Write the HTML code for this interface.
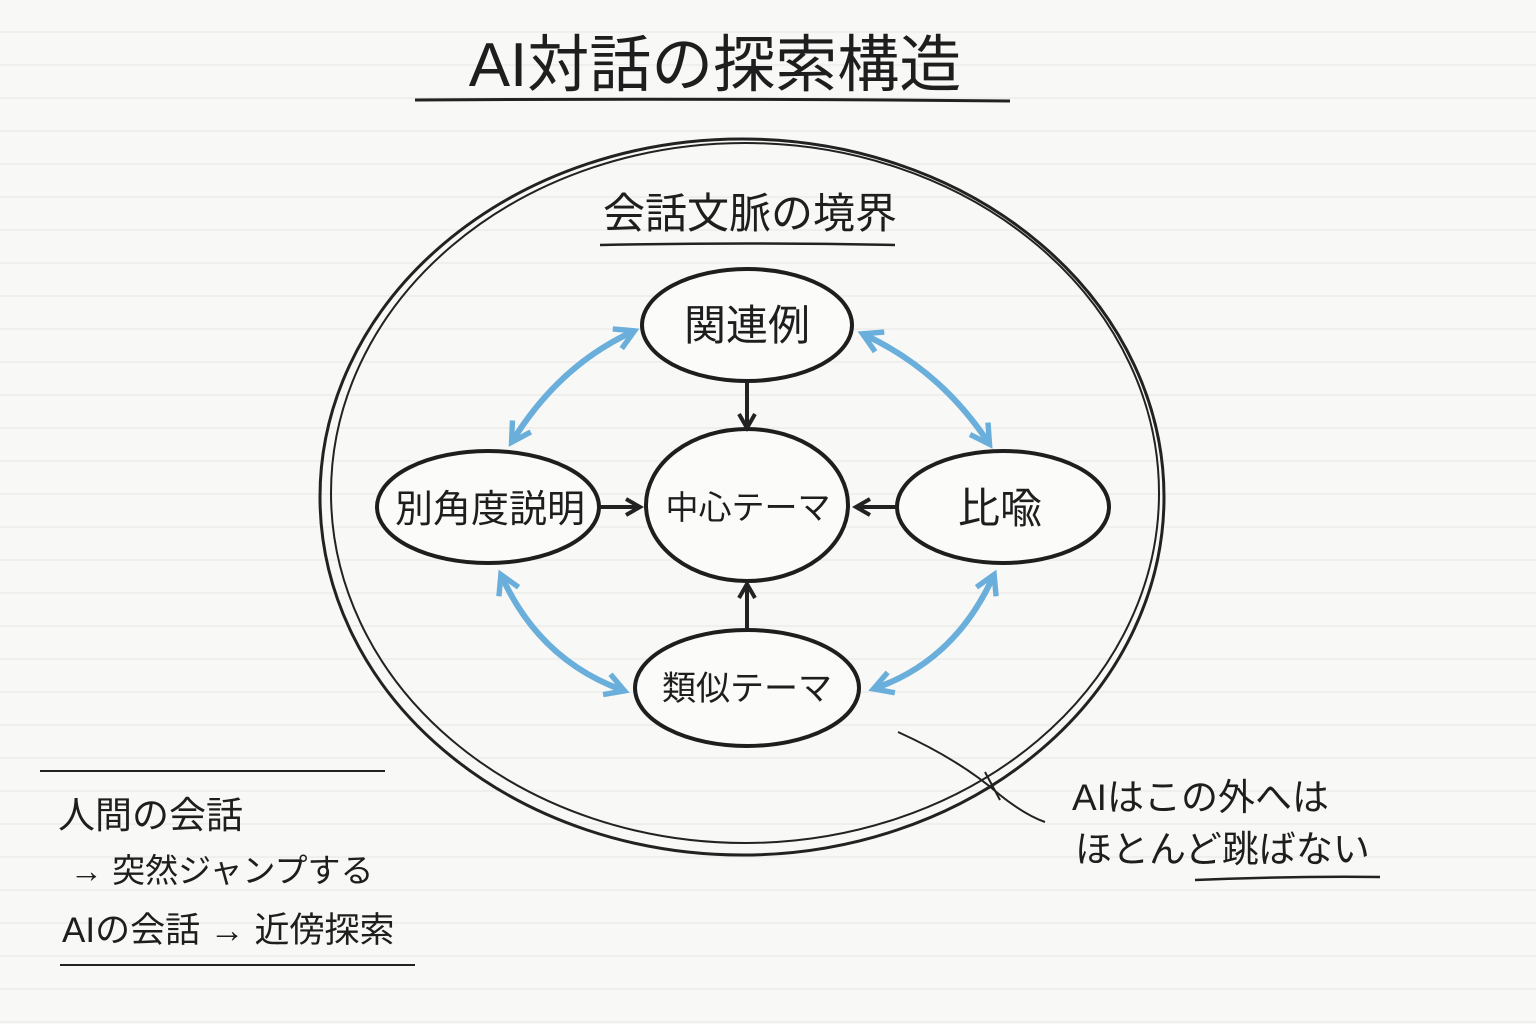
<!DOCTYPE html>
<html><head><meta charset="utf-8"><style>
html,body{margin:0;padding:0;background:#f8f8f6;}
svg{display:block}
text{font-family:"Liberation Sans","Noto Sans CJK JP",sans-serif;fill:#1e1e1e;}
</style></head><body>
<svg width="1536" height="1024" viewBox="0 0 1536 1024" xmlns="http://www.w3.org/2000/svg">
<defs>
<pattern id="ln" width="1536" height="33" patternUnits="userSpaceOnUse">
<line x1="0" y1="32" x2="1536" y2="32" stroke="#e6e6e4" stroke-width="1"/>
</pattern>
<marker id="bk" viewBox="0 0 10 10" refX="7" refY="5" markerWidth="5" markerHeight="5" orient="auto-start-reverse">
<path d="M1,1 L8,5 L1,9" fill="none" stroke="#222" stroke-width="2"/>
</marker>
<marker id="bl" viewBox="0 0 10 10" refX="7" refY="5" markerWidth="4.5" markerHeight="4.5" orient="auto-start-reverse">
<path d="M1,1 L8,5 L1,9" fill="none" stroke="#6aaedb" stroke-width="2"/>
</marker>
</defs>
<rect width="1536" height="1024" fill="#f8f8f6"/>
<rect width="1536" height="1024" fill="url(#ln)"/>

<text x="715" y="86" font-size="62" text-anchor="middle">AI対話の探索構造</text>
<path d="M415,100 Q700,98 1010,101" stroke="#222" stroke-width="3" fill="none"/>

<ellipse cx="742" cy="497" rx="422" ry="358" fill="none" stroke="#222" stroke-width="3"/>
<ellipse cx="745" cy="493" rx="414" ry="350" fill="none" stroke="#222" stroke-width="2"/>

<text x="750" y="228" font-size="42" text-anchor="middle">会話文脈の境界</text>
<path d="M600,245 Q750,242 895,245" stroke="#222" stroke-width="2.5" fill="none"/>

<g fill="#fbfbf9" stroke="#1e1e1e" stroke-width="4">
<ellipse cx="747" cy="325" rx="105" ry="56"/>
<ellipse cx="747" cy="505" rx="101" ry="76"/>
<ellipse cx="488" cy="507" rx="111" ry="56"/>
<ellipse cx="1003" cy="507" rx="106" ry="56"/>
<ellipse cx="747" cy="688" rx="112" ry="58"/>
</g>
<g font-size="42" text-anchor="middle">
<text x="747" y="340">関連例</text>
<text x="748" y="519" font-size="33">中心テーマ</text>
<text x="490" y="522" font-size="38">別角度説明</text>
<text x="1000" y="523">比喩</text>
<text x="747" y="700" font-size="34">類似テーマ</text>
</g>

<g stroke="#222" stroke-width="4" fill="none" marker-end="url(#bk)">
<line x1="747" y1="382" x2="747" y2="426"/>
<line x1="600" y1="507" x2="638" y2="507"/>
<line x1="897" y1="507" x2="858" y2="507"/>
<line x1="747" y1="628" x2="747" y2="586"/>
</g>

<g stroke="#6aaedb" stroke-width="6" fill="none" marker-start="url(#bl)" marker-end="url(#bl)">
<path d="M632,332 Q560,365 513,440"/>
<path d="M865,335 Q940,370 988,442"/>
<path d="M502,577 Q540,660 622,690"/>
<path d="M993,577 Q955,660 876,688"/>
</g>

<path d="M40,771 L385,771" stroke="#222" stroke-width="2"/>
<text x="58" y="828" font-size="37">人間の会話</text>
<text x="70" y="882" font-size="33">→ 突然ジャンプする</text>
<text x="62" y="942" font-size="35">AIの会話 → 近傍探索</text>
<path d="M60,965 L415,965" stroke="#222" stroke-width="2"/>

<path d="M898,732 Q960,760 1000,795 Q1025,815 1045,822" stroke="#222" stroke-width="2" fill="none"/>
<path d="M985,772 L1000,800" stroke="#222" stroke-width="2"/>
<text x="1072" y="810" font-size="37">AIはこの外へは</text>
<text x="1075" y="862" font-size="37">ほとんど跳ばない</text>
<path d="M1195,880 Q1290,876 1380,877" stroke="#222" stroke-width="2.5" fill="none"/>
</svg>
</body></html>
